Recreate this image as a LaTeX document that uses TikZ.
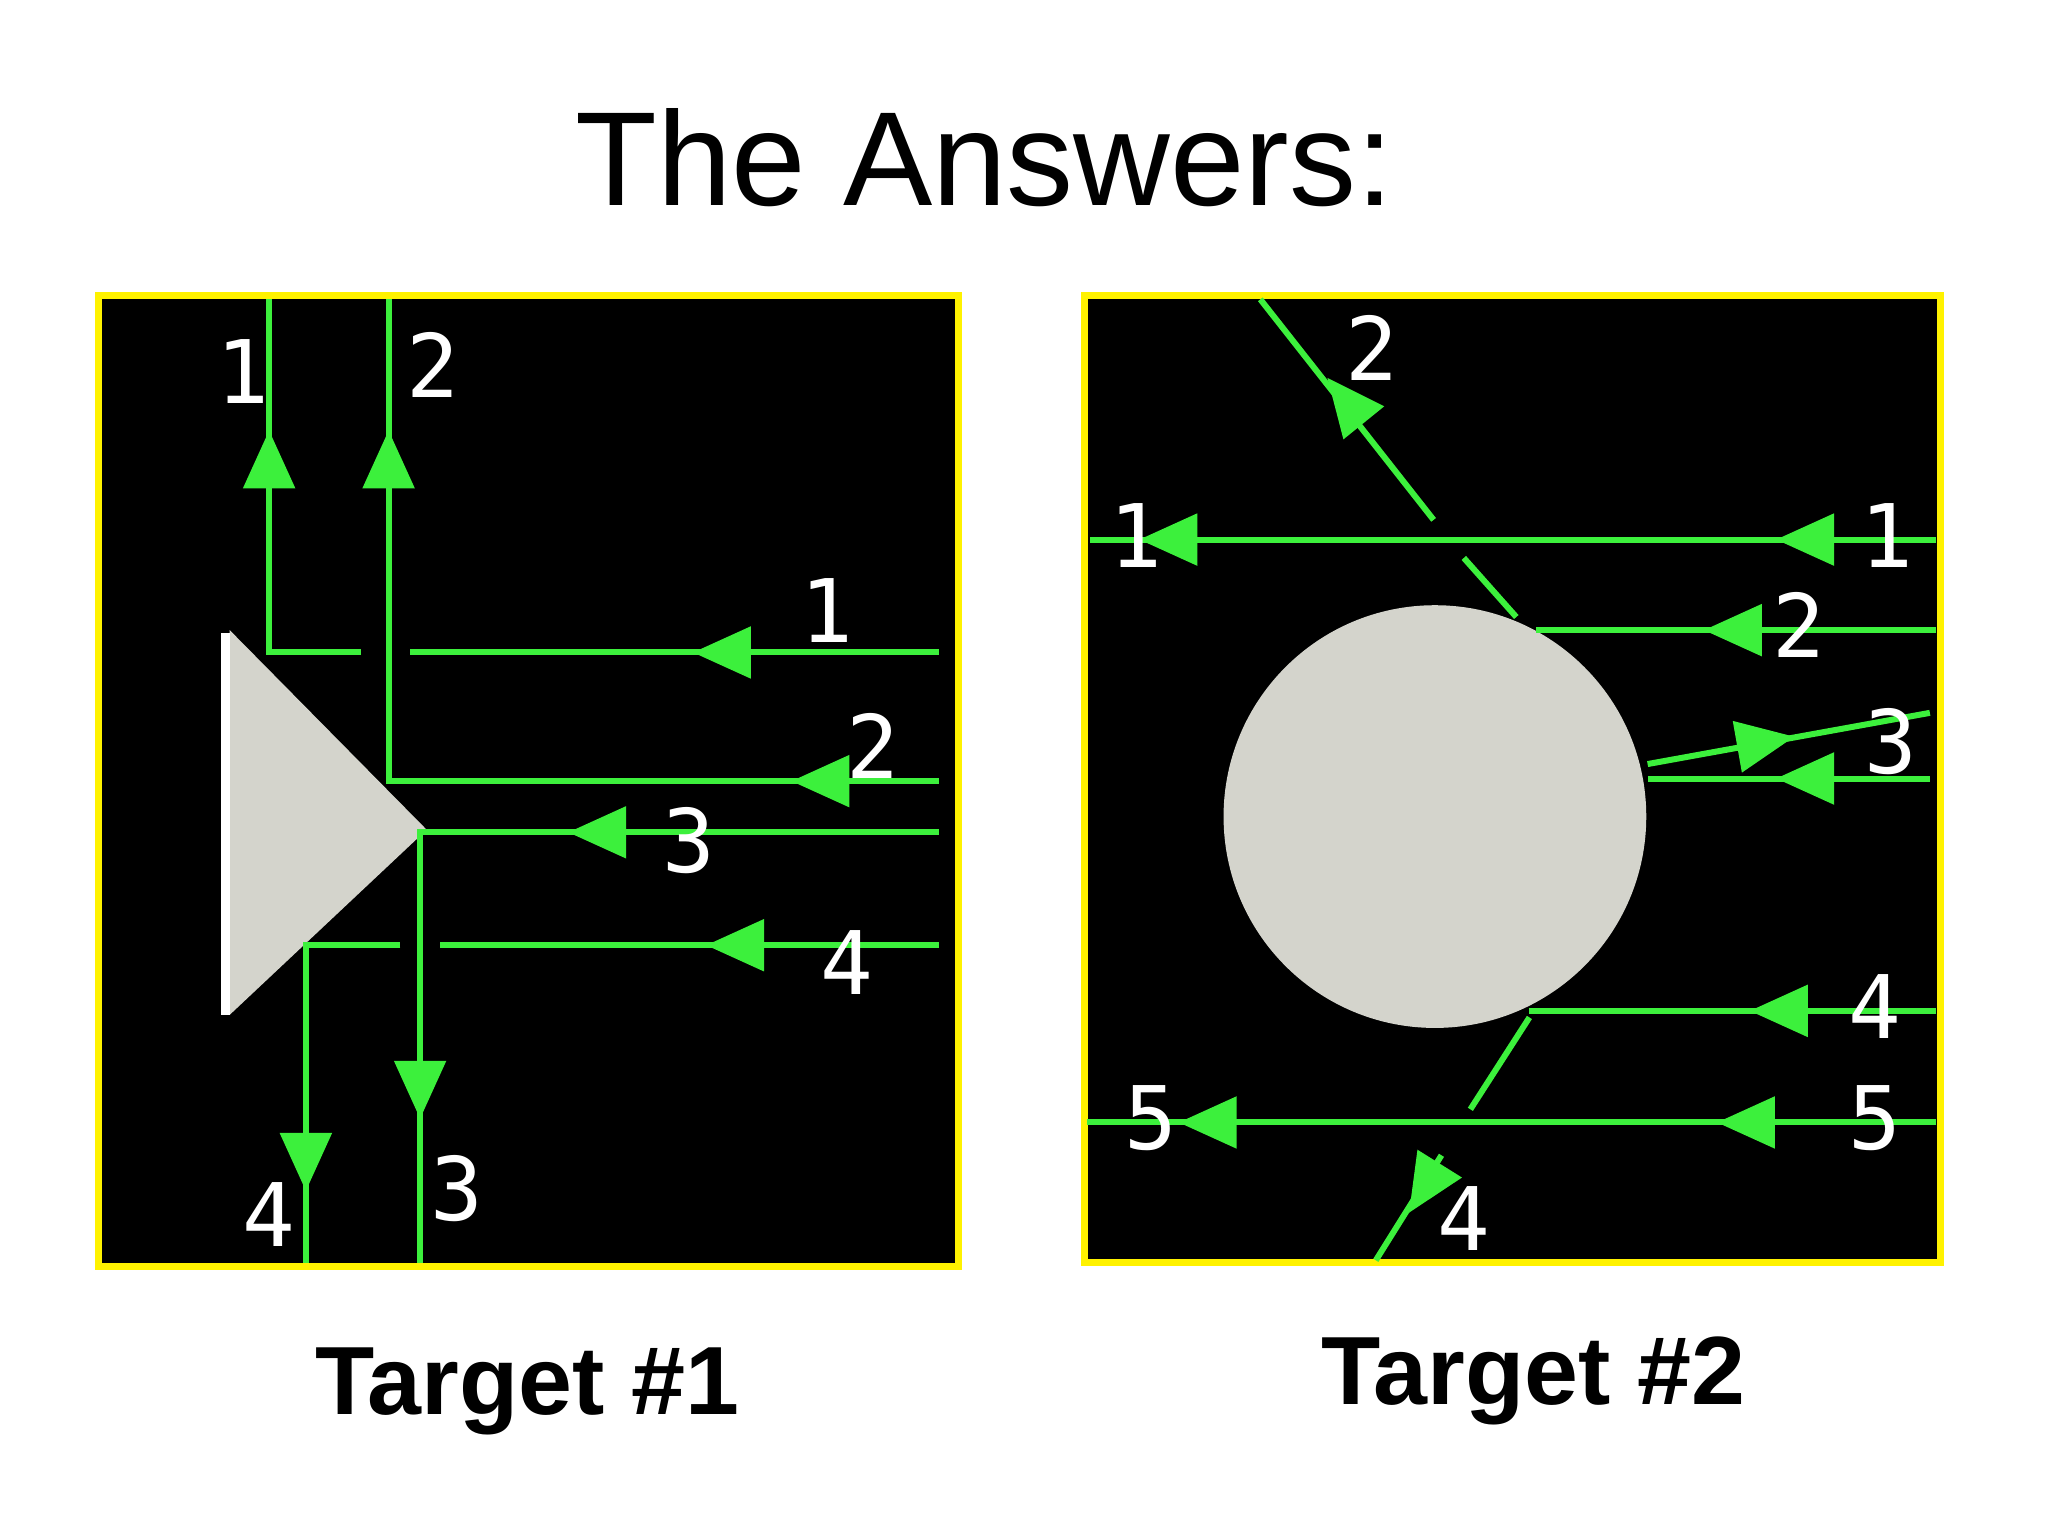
\documentclass[tikz,border=0pt]{standalone}
\usepackage{fontspec}
\setmainfont{Liberation Sans}
\newfontfamily\labfont{DejaVu Sans Mono}
\definecolor{raygreen}{RGB}{60,240,60}
\definecolor{objgray}{RGB}{212,212,204}
\newcommand\arrowtip[3]{\fill[raygreen,shift={(#1,#2)},rotate=#3] (22,0) -- (-22,20) -- (-22,-20) -- cycle;}
\begin{document}
\begin{tikzpicture}[x=0.01cm,y=-0.01cm,
  ray/.style={raygreen,line width=1.3pt},
  lab/.style={text=white,font=\labfont\fontsize{19}{19}\selectfont,inner sep=0pt},
  panel/.style={fill=black,draw=yellow,line width=1.5pt}]
\useasboundingbox (0,0) rectangle (1560,1170);
\node[font=\fontsize{29}{29}\selectfont] (title) at (750,120) {The Answers:};
% Target 1
\draw[panel] (75,225) rectangle (730,965);
\fill[objgray] (175,480) -- (325,632) -- (175,773) -- cycle;
\draw[white,line width=2pt] (172,482) -- (172,773);
\draw[ray] (715,497) -- (312,497) (275,497) -- (205,497) -- (205,228);
\draw[ray] (715,595) -- (296,595) -- (296,228);
\draw[ray] (715,634) -- (322,634) -- (320,634) -- (320,962);
\draw[ray] (715,720) -- (335,720) (305,720) -- (235,720) -- (233,720) -- (233,962);
\arrowtip{550}{497}{180} \arrowtip{205}{350}{90}
\arrowtip{625}{595}{180} \arrowtip{296}{350}{90}
\arrowtip{455}{634}{180} \arrowtip{320}{830}{-90}
\arrowtip{560}{720}{180} \arrowtip{233}{885}{-90}
\node[lab] (a1) at (630,465) {1}; \node[lab] (b1) at (185,283) {1};
\node[lab] (a2) at (665,568) {2}; \node[lab] (b2) at (330,278) {2};
\node[lab] (a3) at (525,640) {3}; \node[lab] (b3) at (348,905) {3};
\node[lab] (a4) at (645,733) {4}; \node[lab] (b4) at (205,925) {4};
\node[font=\bfseries\fontsize{21}{21}\selectfont] (t1) at (402,1060) {Target \#1};
% Target 2
\draw[panel] (826,225) rectangle (1478,962);
\fill[objgray] (1093,622) circle (161);
\draw[ray] (1475,411) -- (830,411);
\draw[ray] (1475,480) -- (1170,480);
\draw[ray] (1155,470) -- (1115,425) (1092,396) -- (960,228);
\draw[ray] (1470,593) -- (1255,593);
\draw[ray] (1255,582) -- (1470,543);
\draw[ray] (1475,770) -- (1165,770);
\draw[ray] (1165,775) -- (1120,845) (1098,880) -- (1048,960);
\draw[ray] (1475,855) -- (828,855);
\arrowtip{1375}{411}{180} \arrowtip{890}{411}{180}
\arrowtip{1320}{480}{180} \arrowtip{1025}{305}{129}
\arrowtip{1375}{593}{180} \arrowtip{1345}{565}{10}
\arrowtip{1355}{770}{180} \arrowtip{1085}{905}{238}
\arrowtip{1330}{855}{180} \arrowtip{920}{855}{180}
\node[lab] (c1) at (1437,408) {1}; \node[lab] (d1) at (865,408) {1};
\node[lab] (c2) at (1370,476) {2}; \node[lab] (d2) at (1045,265) {2};
\node[lab] (c3) at (1440,565) {3};
\node[lab] (c4) at (1428,767) {4}; \node[lab] (d4) at (1115,928) {4};
\node[lab] (c5) at (1428,852) {5}; \node[lab] (d5) at (877,852) {5};
\node[font=\bfseries\fontsize{21}{21}\selectfont] (t2) at (1168,1052) {Target \#2};
\end{tikzpicture}
\end{document}
